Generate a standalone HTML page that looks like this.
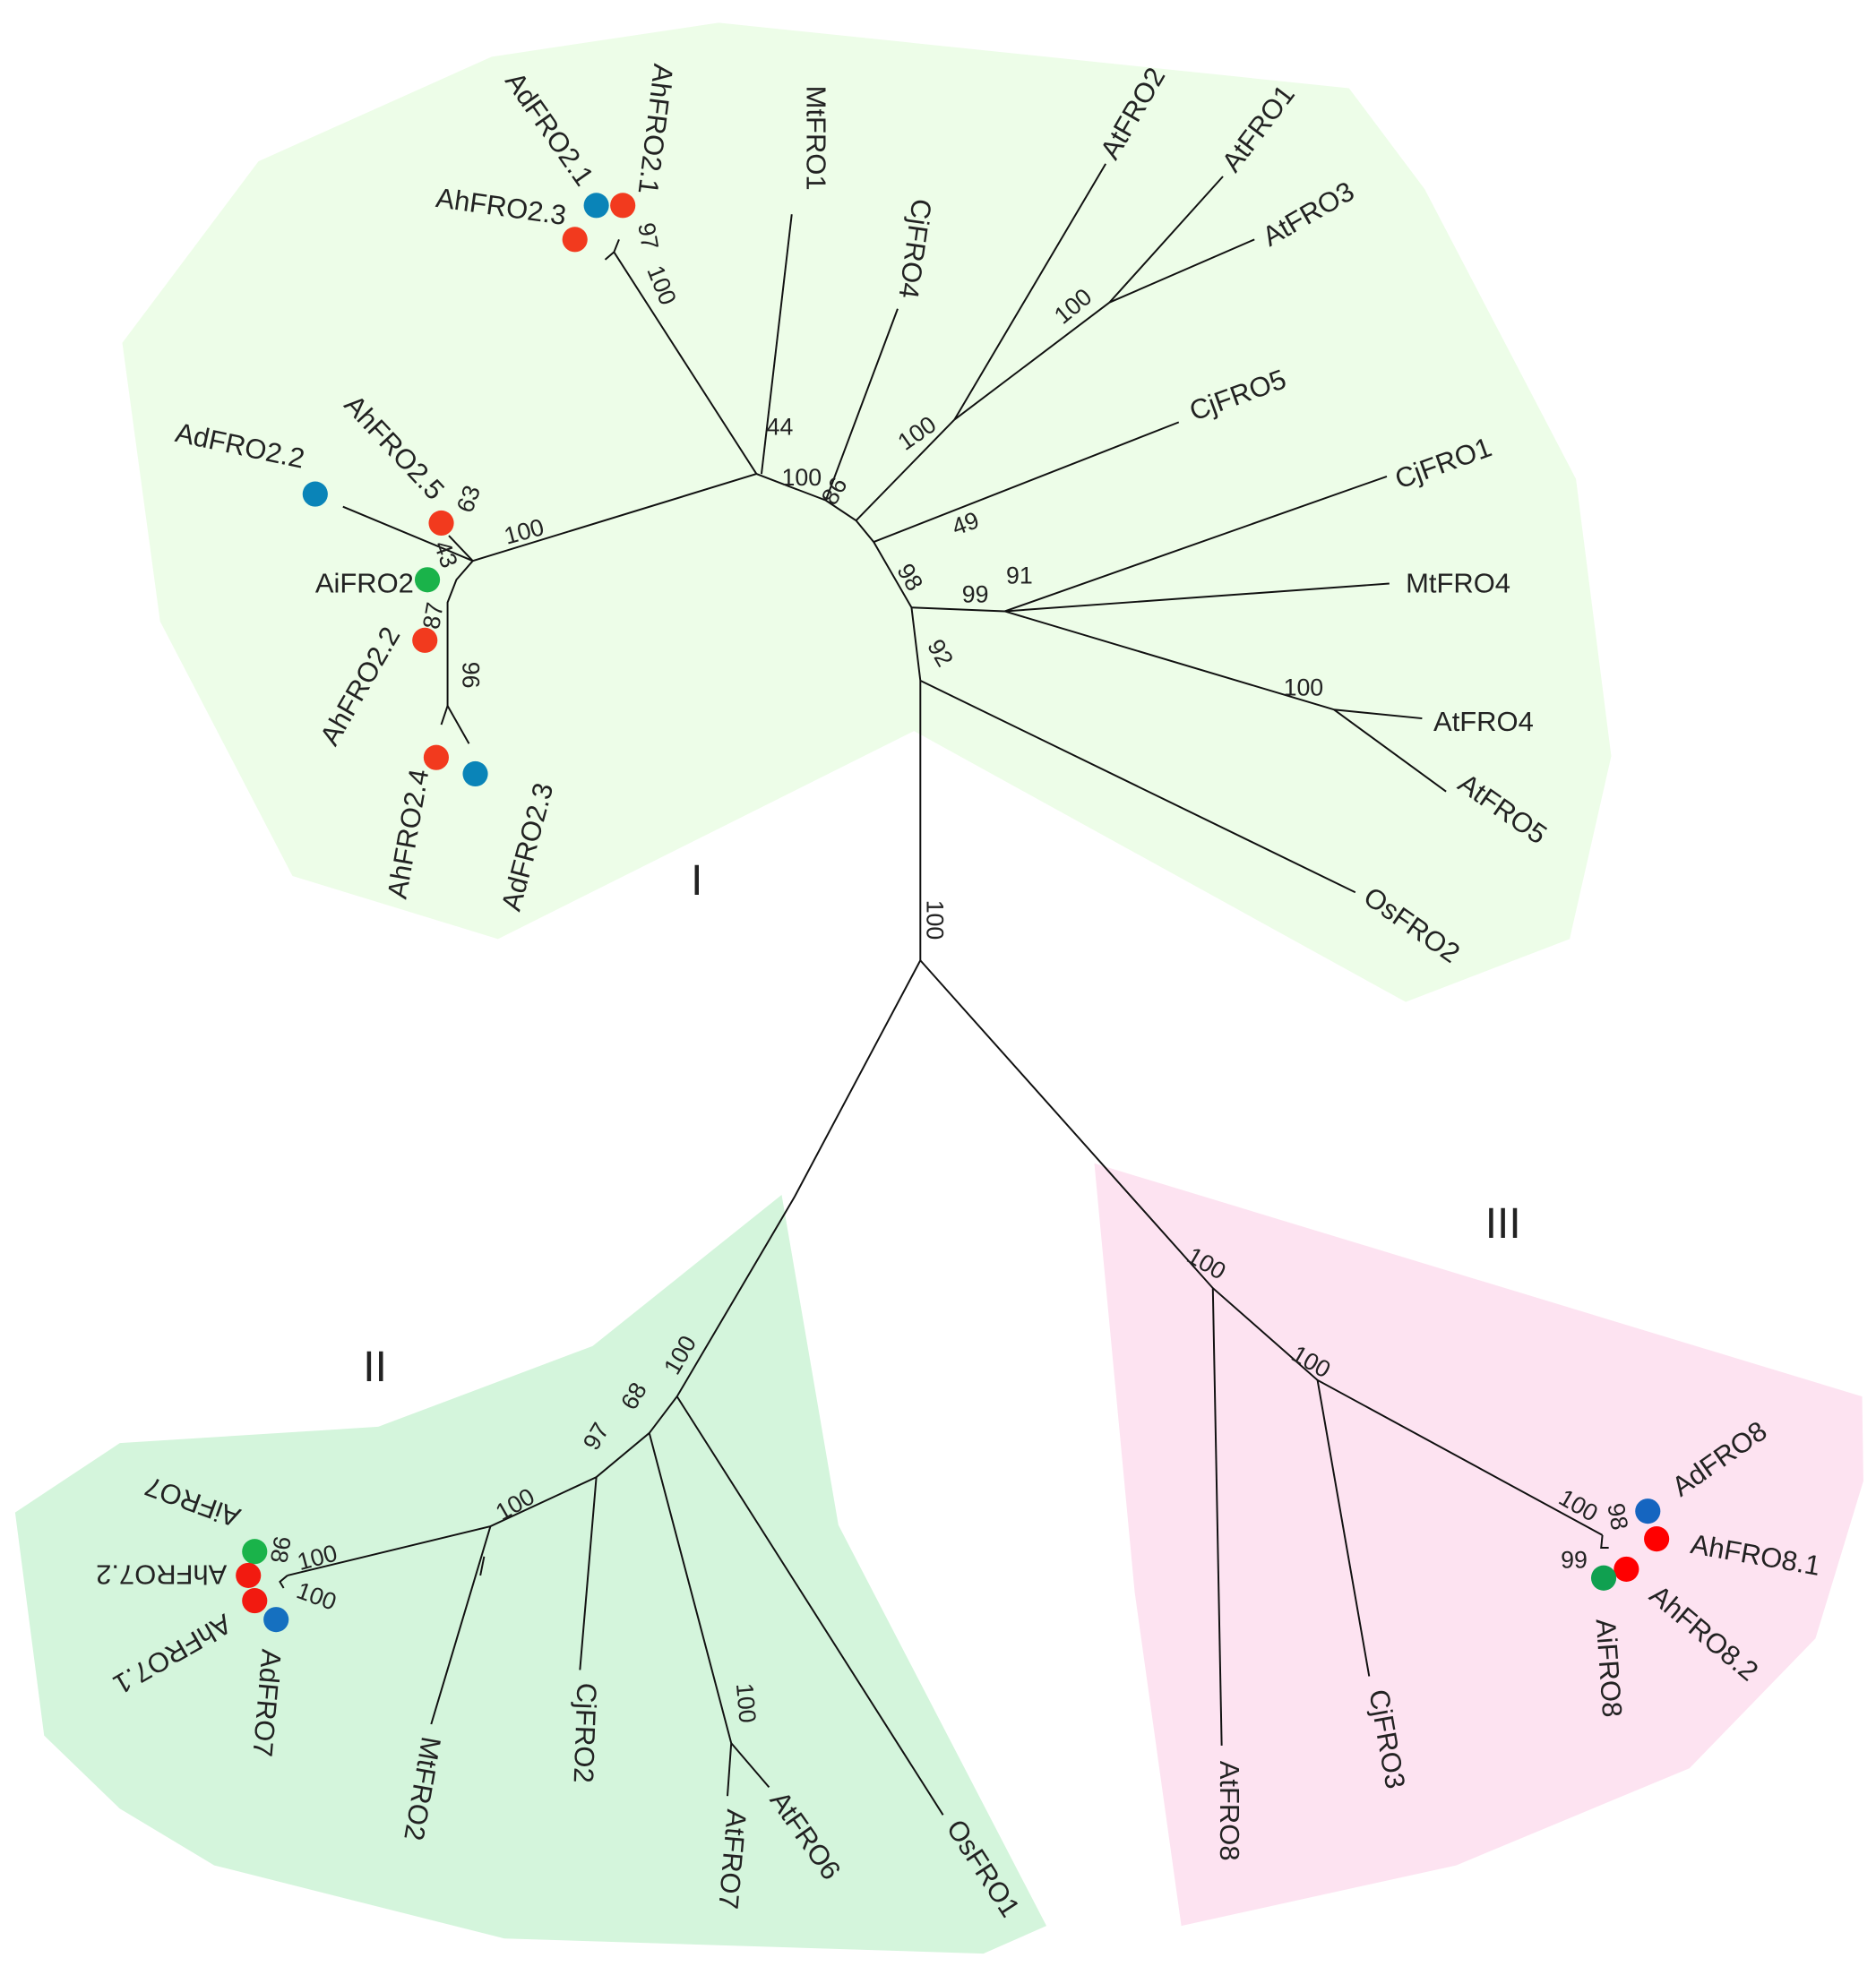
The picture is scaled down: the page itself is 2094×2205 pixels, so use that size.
<!DOCTYPE html>
<html><head><meta charset="utf-8"><style>
html,body{margin:0;padding:0;background:#fff;}
svg{display:block;}
text{font-family:"Liberation Sans",Arial,sans-serif;fill:#222;}
.l{font-size:22px;}
.b{font-size:19px;}
</style></head><body>
<svg width="2094" height="2205" viewBox="0 0 1488 1567" preserveAspectRatio="none" xmlns="http://www.w3.org/2000/svg">
<polygon fill="#edfde8" points="205,128 390,45 570,18 1070,70 1130,150 1250,380 1278,600 1245,745 1115,795 725,580 395,745 232,695 127,493 97,272"/>
<polygon fill="#d4f5dc" points="620,948 665,1210 830,1528 780,1550 400,1538 170,1480 95,1435 35,1377 12,1200 95,1145 300,1132 470,1068"/>
<polygon fill="#fde3f1" points="868,923 1477,1108 1478,1175 1440,1300 1340,1403 1155,1480 937,1528 900,1263"/>
<g stroke="#111" stroke-width="1.4" fill="none">
<polyline points="730,762 730,540 723,482 693,430 679,413 655,397 600,376 375,445"/>
<line x1="730" y1="540" x2="1075" y2="708"/>
<line x1="723" y1="482" x2="797" y2="485"/>
<line x1="797" y1="485" x2="1100" y2="378"/>
<line x1="797" y1="485" x2="1102" y2="463"/>
<line x1="797" y1="485" x2="1058" y2="563"/>
<line x1="1058" y1="563" x2="1128" y2="570"/>
<line x1="1058" y1="563" x2="1147" y2="628"/>
<line x1="693" y1="430" x2="935" y2="335"/>
<line x1="679" y1="413" x2="757" y2="333"/>
<line x1="757" y1="333" x2="877" y2="130"/>
<line x1="757" y1="333" x2="880" y2="240"/>
<line x1="880" y1="240" x2="970" y2="140"/>
<line x1="880" y1="240" x2="995" y2="190"/>
<line x1="655" y1="397" x2="712" y2="245"/>
<line x1="604" y1="376" x2="628" y2="170"/>
<line x1="600" y1="376" x2="487" y2="200"/>
<polyline points="480,206 487,200 491,190"/>
<line x1="375" y1="445" x2="272" y2="402"/>
<line x1="375" y1="445" x2="356" y2="425"/>
<polyline points="375,445 362,460 355,478 355,560"/>
<line x1="355" y1="560" x2="350" y2="575"/>
<line x1="355" y1="560" x2="372" y2="590"/>
<polyline points="730,762 630,950 537,1108 515,1137 473,1172 389,1211 228,1250"/>
<line x1="537" y1="1108" x2="748" y2="1440"/>
<line x1="515" y1="1137" x2="580" y2="1383"/>
<line x1="580" y1="1383" x2="577" y2="1425"/>
<line x1="580" y1="1383" x2="610" y2="1418"/>
<line x1="473" y1="1172" x2="460" y2="1325"/>
<line x1="389" y1="1211" x2="342" y2="1368"/>
<line x1="384" y1="1235" x2="381" y2="1250"/>
<polyline points="228,1250 222,1255 225,1260"/>
<polyline points="730,762 962,1022 1045,1095 1271,1218"/>
<line x1="962" y1="1022" x2="969" y2="1385"/>
<line x1="1045" y1="1095" x2="1086" y2="1330"/>
<polyline points="1271,1218 1270,1228 1276,1228"/>
</g>
<g>
<circle cx="473" cy="163" r="10" fill="#0a84b8"/><circle cx="494" cy="163" r="10" fill="#f23a1e"/>
<circle cx="456" cy="190" r="10" fill="#f23a1e"/>
<circle cx="250" cy="392" r="10" fill="#0a84b8"/>
<circle cx="350" cy="415" r="10" fill="#f23a1e"/>
<circle cx="339" cy="460" r="10" fill="#1ab34a"/>
<circle cx="337" cy="508" r="10" fill="#f23a1e"/>
<circle cx="346" cy="601" r="10" fill="#f23a1e"/>
<circle cx="377" cy="614" r="10" fill="#0a84b8"/>
<circle cx="202" cy="1231" r="10" fill="#1ab34a"/>
<circle cx="197" cy="1250" r="10" fill="#f21a10"/>
<circle cx="202" cy="1270" r="10" fill="#f21a10"/>
<circle cx="219" cy="1285" r="10" fill="#1570c0"/>
<circle cx="1307" cy="1199" r="10" fill="#1565c0"/>
<circle cx="1314" cy="1221" r="10" fill="#f00"/>
<circle cx="1290" cy="1245" r="10" fill="#f00"/>
<circle cx="1272" cy="1252" r="10" fill="#10a050"/>
</g>
<g class="l">
<text transform="translate(400,64) rotate(55)">AdFRO2.1</text>
<text transform="translate(519,50) rotate(97)">AhFRO2.1</text>
<text transform="translate(345,164) rotate(8)">AhFRO2.3</text>
<text transform="translate(640,68) rotate(90)">MtFRO1</text>
<text transform="translate(724,157) rotate(98)">CjFRO4</text>
<text transform="translate(885,128) rotate(-60)">AtFRO2</text>
<text transform="translate(980,138) rotate(-53)">AtFRO1</text>
<text transform="translate(1007,196) rotate(-30)">AtFRO3</text>
<text transform="translate(947,334) rotate(-20)">CjFRO5</text>
<text transform="translate(1110,388) rotate(-20)">CjFRO1</text>
<text transform="translate(1115,470)">MtFRO4</text>
<text transform="translate(1137,580)">AtFRO4</text>
<text transform="translate(1155,625) rotate(35)">AtFRO5</text>
<text transform="translate(1080,715) rotate(35)">OsFRO2</text>
<text transform="translate(138,350) rotate(12)">AdFRO2.2</text>
<text transform="translate(272,322) rotate(47)">AhFRO2.5</text>
<text transform="translate(250,470)">AiFRO2</text>
<text transform="translate(266,593) rotate(-60)">AhFRO2.2</text>
<text transform="translate(322,714) rotate(-80)">AhFRO2.4</text>
<text transform="translate(412,724) rotate(-75)">AdFRO2.3</text>
<text transform="translate(192,1198) rotate(200)">AiFRO7</text>
<text transform="translate(180,1242) rotate(180)">AhFRO7.2</text>
<text transform="translate(178,1280) rotate(150)">AhFRO7.1</text>
<text transform="translate(208,1308) rotate(95)">AdFRO7</text>
<text transform="translate(335,1377) rotate(100)">MtFRO2</text>
<text transform="translate(458,1335) rotate(92)">CjFRO2</text>
<text transform="translate(577,1435) rotate(95)">AtFRO7</text>
<text transform="translate(610,1428) rotate(55)">AtFRO6</text>
<text transform="translate(750,1450) rotate(57)">OsFRO1</text>
<text transform="translate(968,1397) rotate(90)">AtFRO8</text>
<text transform="translate(1086,1342) rotate(80)">CjFRO3</text>
<text transform="translate(1266,1285) rotate(86)">AiFRO8</text>
<text transform="translate(1307,1268) rotate(40)">AhFRO8.2</text>
<text transform="translate(1340,1232) rotate(10)">AhFRO8.1</text>
<text transform="translate(1333,1188) rotate(-35)">AdFRO8</text>
</g>
<g class="b">
<text transform="translate(506,178) rotate(80)">97</text>
<text transform="translate(513,214) rotate(68)">100</text>
<text transform="translate(608,345)">44</text>
<text transform="translate(620,385)">100</text>
<text transform="translate(662,402) rotate(-60)">86</text>
<text transform="translate(718,358) rotate(-35)">100</text>
<text transform="translate(843,258) rotate(-40)">100</text>
<text transform="translate(758,425) rotate(-20)">49</text>
<text transform="translate(711,452) rotate(60)">98</text>
<text transform="translate(763,478)">99</text>
<text transform="translate(798,463)">91</text>
<text transform="translate(1018,552)">100</text>
<text transform="translate(735,512) rotate(60)">92</text>
<text transform="translate(402,432) rotate(-15)">100</text>
<text transform="translate(374,408) rotate(-70)">63</text>
<text transform="translate(344,432) rotate(70)">43</text>
<text transform="translate(348,500) rotate(-80)">87</text>
<text transform="translate(367,525) rotate(90)">96</text>
<text transform="translate(735,714) rotate(90)">100</text>
<text transform="translate(537,1092) rotate(-60)">100</text>
<text transform="translate(503,1120) rotate(-60)">68</text>
<text transform="translate(473,1152) rotate(-60)">97</text>
<text transform="translate(398,1207) rotate(-30)">100</text>
<text transform="translate(238,1246) rotate(-15)">100</text>
<text transform="translate(218,1218) rotate(100)">98</text>
<text transform="translate(234,1267) rotate(20)">100</text>
<text transform="translate(584,1336) rotate(85)">100</text>
<text transform="translate(940,1000) rotate(30)">100</text>
<text transform="translate(1023,1078) rotate(30)">100</text>
<text transform="translate(1235,1192) rotate(30)">100</text>
<text transform="translate(1275,1194) rotate(80)">98</text>
<text transform="translate(1238,1244)">99</text>
</g>
<text x="548" y="710" font-size="34">I</text>
<text x="288" y="1096" font-size="34">II</text>
<text x="1178" y="982" font-size="34">III</text>
</svg>
</body></html>
